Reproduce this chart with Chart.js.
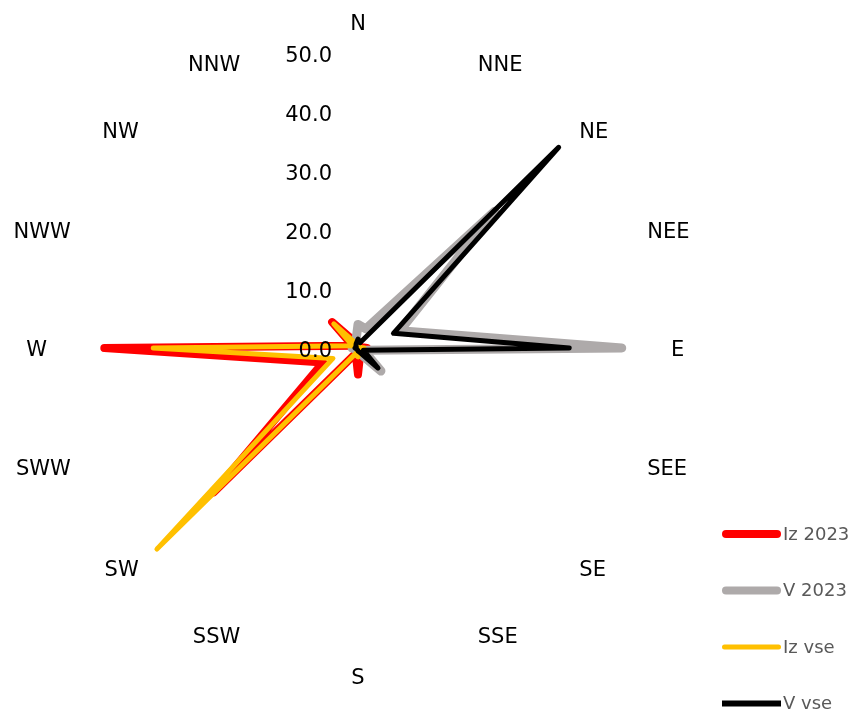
<!DOCTYPE html>
<html><head><meta charset="utf-8">
<script src="https://cdn.jsdelivr.net/npm/chart.js@4.4.1/dist/chart.umd.min.js"></script>
<style>html,body{margin:0;padding:0;background:#fff;}#wrap{width:853px;height:713px;position:relative;}</style>
</head><body><div id="wrap"><canvas id="c" width="853" height="713"></canvas></div>
<script>
const categories = ['N','NNE','NE','NEE','E','SEE','SE','SSE','S','SSW','SW','SWW','W','NWW','NW','NNW'];
const seriesNames = ['Iz 2023','V 2023','Iz vse','V vse'];
const iz2023 = [1.0, 0.5, 0.5, 0.5, 1.5, 0.5, 0.5, 1.0, 4.5, 1.0, 34.6, 6.4, 43.0, 1.0, 6.2, 1.0];
const v2023  = [4.0, 3.5, 32.8, 7.7, 44.7, 1.0, 5.5, 1.0, 1.0, 0.5, 0.5, 0.5, 1.0, 0.5, 1.0, 1.0];
const izVse  = [0.5, 0.3, 0.3, 0.3, 1.0, 0.3, 0.5, 0.5, 1.5, 1.0, 48.2, 4.6, 34.7, 1.0, 5.8, 0.8];
const vVse   = [1.5, 1.0, 48.1, 6.5, 35.8, 1.0, 4.8, 0.8, 0.5, 0.3, 0.3, 0.3, 0.5, 0.3, 0.5, 0.8];
const tickValues = [0, 10, 20, 30, 40, 50];
const tickLabels = ['0.0', '10.0', '20.0', '30.0', '40.0', '50.0'];

const colors = ['#FF0000', '#AEAAAA', '#FFC000', '#000000'];
const widths = [8, 9, 5, 5];
const legendWidths = [8, 8, 5, 6];
const legendCaps = ['round', 'round', 'round', 'butt'];
const seriesData = [iz2023, v2023, izVse, vVse];

const textPlugin = {
  id: 'textPlugin',
  afterDatasetsDraw(chart) {
    const s = chart.scales.r, ctx = chart.ctx;
    ctx.save();
    ctx.fillStyle = '#000000';
    ctx.font = '21px "DejaVu Sans"';
    ctx.textBaseline = 'middle';
    ctx.textAlign = 'right';
    tickValues.forEach((v, i) => {
      const d = s.getDistanceFromCenterForValue(v);
      ctx.fillText(tickLabels[i], s.xCenter - 26, s.yCenter - d + 4);
    });
    const D = s.drawingArea + 18;
    categories.forEach((c, i) => {
      const p = s.getPointPosition(i, D);
      const dx = p.x - s.xCenter, dy = p.y - s.yCenter;
      const cu = -dy / D;
      let y = p.y;
      if (Math.abs(dx) < 1) { ctx.textAlign = 'center'; y += dy < 0 ? -10 : 18; }
      else {
        ctx.textAlign = dx > 0 ? 'left' : 'right';
        y += cu > 0 ? 3 + 4 * cu : 3 + 3 * cu;
      }
      ctx.fillText(c, p.x + (dx < -1 ? 2 : 0), y);
    });
    ctx.restore();
  },
  afterDraw(chart) {
    const ctx = chart.ctx;
    ctx.save();
    ctx.font = '18px "DejaVu Sans"';
    ctx.textBaseline = 'middle';
    ctx.textAlign = 'left';
    chart.data.datasets.forEach((ds, i) => {
      const y = 534 + i * 56.5;
      ctx.beginPath();
      ctx.strokeStyle = ds.borderColor;
      ctx.lineWidth = legendWidths[i];
      ctx.lineCap = legendCaps[i];
      const inset = legendCaps[i] === 'round' ? legendWidths[i] / 2 : 0;
      ctx.moveTo(722 + inset, y);
      ctx.lineTo(781 - inset, y);
      ctx.stroke();
      ctx.fillStyle = '#595959';
      ctx.fillText(ds.label, 783, y + 1);
    });
    ctx.restore();
  }
};

new Chart(document.getElementById('c'), {
  type: 'radar',
  data: {
    labels: categories,
    datasets: seriesData.map((d, i) => ({
      label: seriesNames[i],
      data: d,
      borderColor: colors[i],
      backgroundColor: colors[i],
      borderWidth: widths[i],
      fill: false,
      order: 4 - i,
      pointRadius: 0,
      pointHoverRadius: 0,
      borderJoinStyle: 'round',
      borderCapStyle: 'round',
      tension: 0
    }))
  },
  options: {
    responsive: false,
    animation: false,
    devicePixelRatio: 1,
    layout: { padding: { left: 63, right: 200, top: 53, bottom: 70 } },
    plugins: { legend: { display: false }, tooltip: { enabled: false } },
    scales: {
      r: {
        min: 0, max: 50,
        afterBuildTicks: (scale) => { scale.ticks = tickValues.map(v => ({ value: v })); },
        ticks: { display: false, stepSize: 10 },
        grid: { display: false },
        angleLines: { display: false },
        pointLabels: { display: false }
      }
    }
  },
  plugins: [textPlugin]
});
</script>
</body></html>
